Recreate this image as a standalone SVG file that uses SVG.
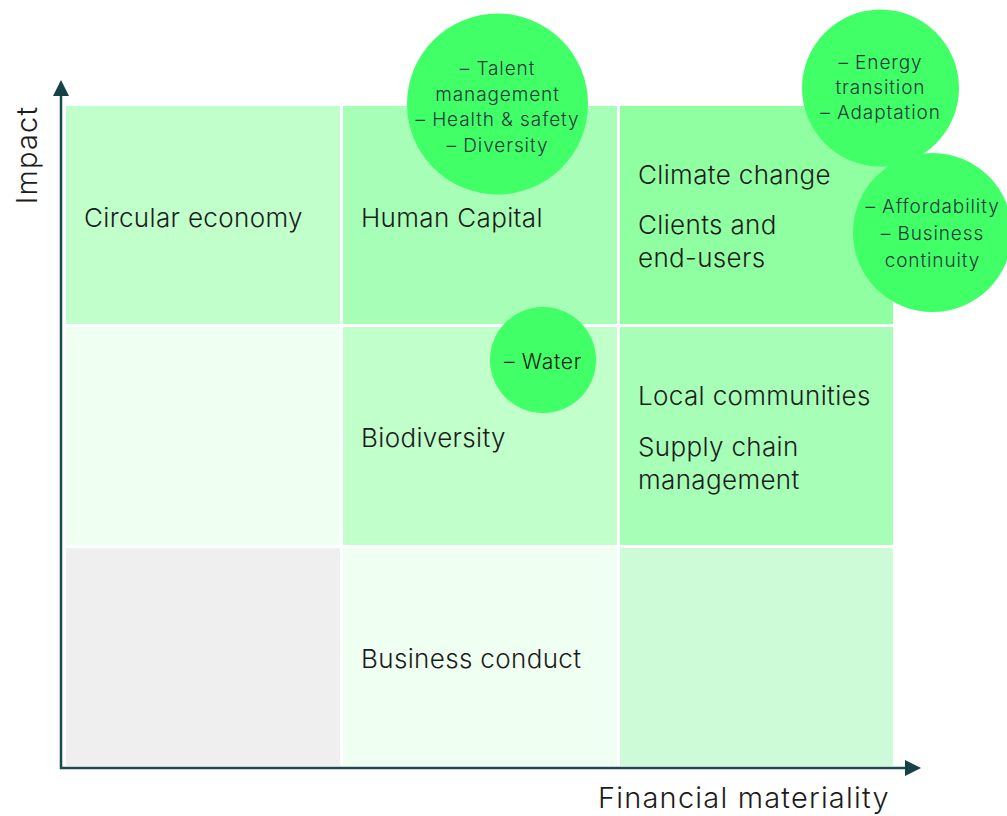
<svg xmlns="http://www.w3.org/2000/svg" width="1007" height="816" viewBox="0 0 1007 816">
  <style>
    .cell-label { font-family: Inter, "Noto Sans", sans-serif; font-size: 26px; font-weight: 300; letter-spacing: 0.35px; fill: #1c1c1c; }
    .bubble { fill: #41ff66; }
    .bubble-label { font-family: Inter, "Noto Sans", sans-serif; font-size: 19px; font-weight: 300; letter-spacing: 0.9px; fill: #1f3a40; text-anchor: middle; }
    .axis-label { font-family: Inter, "Noto Sans", sans-serif; font-size: 29px; font-weight: 300; letter-spacing: 1.2px; fill: #1c1c1c; }
    .axis { stroke: #1d4a52; stroke-width: 2.5; fill: none; }
  </style>
  <defs>
    <marker id="arrow" viewBox="0 0 16 16" refX="2" refY="8" markerWidth="16" markerHeight="16" markerUnits="userSpaceOnUse" orient="auto">
      <path d="M0,0 L16,8 L0,16 Z" fill="#154249"/>
    </marker>
  </defs>
  <rect width="1007" height="816" fill="#ffffff"/>

  <!-- 3x3 materiality grid -->
  <g id="grid">
    <g id="cell-r1c1"><rect x="66" y="106" width="274" height="218" fill="#c1ffcb"/><text class="cell-label" x="84" y="227">Circular economy</text></g>
    <g id="cell-r1c2"><rect x="343" y="106" width="274" height="218" fill="#a7ffb7"/><text class="cell-label" x="361" y="227">Human Capital</text></g>
    <g id="cell-r1c3"><rect x="620" y="106" width="273" height="218" fill="#90ffa1"/>
      <text class="cell-label" x="638" y="184">Climate change</text>
      <text class="cell-label" x="638" y="234">Clients and</text>
      <text class="cell-label" x="638" y="267">end-users</text>
    </g>
    <g id="cell-r2c1"><rect x="66" y="327" width="274" height="218" fill="#effff2"/></g>
    <g id="cell-r2c2"><rect x="343" y="327" width="274" height="218" fill="#c1ffcb"/><text class="cell-label" x="361" y="447">Biodiversity</text></g>
    <g id="cell-r2c3"><rect x="620" y="327" width="273" height="218" fill="#a7ffb7"/>
      <text class="cell-label" x="638" y="405">Local communities</text>
      <text class="cell-label" x="638" y="456">Supply chain</text>
      <text class="cell-label" x="638" y="489">management</text>
    </g>
    <g id="cell-r3c1"><rect x="66" y="548" width="274" height="218" fill="#efefef"/></g>
    <g id="cell-r3c2"><rect x="343" y="548" width="274" height="218" fill="#effff2"/><text class="cell-label" x="361" y="668">Business conduct</text></g>
    <g id="cell-r3c3"><rect x="620" y="548" width="273" height="218" fill="#cdfad7"/></g>
  </g>

  <!-- axes -->
  <g id="connectors">
    <path class="axis" d="M61,769 L61,94" marker-end="url(#arrow)"/>
    <path class="axis" d="M60,768 L907,768" marker-end="url(#arrow)"/>
  </g>
  <text class="axis-label" transform="translate(37,155) rotate(-90)" text-anchor="middle">Impact</text>
  <text class="axis-label" x="598" y="808">Financial materiality</text>

  <!-- highlight bubbles -->
  <g id="bubble-talent">
    <circle class="bubble" cx="497.5" cy="104" r="90.5"/>
    <text class="bubble-label" x="497.5" y="75">– Talent</text>
    <text class="bubble-label" x="497.5" y="101">management</text>
    <text class="bubble-label" x="497.5" y="126">– Health &amp; safety</text>
    <text class="bubble-label" x="497.5" y="152">– Diversity</text>
  </g>
  <g id="bubble-energy">
    <circle class="bubble" cx="880.5" cy="88" r="78.5"/>
    <text class="bubble-label" x="880.5" y="69">– Energy</text>
    <text class="bubble-label" x="880.5" y="94">transition</text>
    <text class="bubble-label" x="880.5" y="119">– Adaptation</text>
  </g>
  <g id="bubble-affordability">
    <circle class="bubble" cx="932.5" cy="232.5" r="79.5"/>
    <text class="bubble-label" x="932.5" y="213">– Affordability</text>
    <text class="bubble-label" x="932.5" y="240">– Business</text>
    <text class="bubble-label" x="932.5" y="267">continuity</text>
  </g>
  <g id="bubble-water">
    <circle class="bubble" cx="543" cy="360" r="53"/>
    <text class="bubble-label" x="543" y="369" style="fill:#1a1a1a; font-size:21px; letter-spacing:0.7px">– Water</text>
  </g>
</svg>
